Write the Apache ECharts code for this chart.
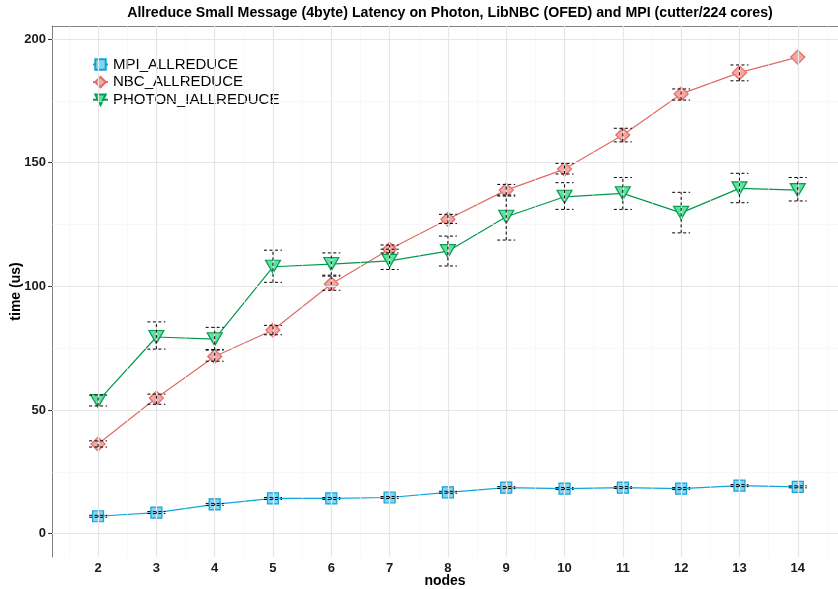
<!DOCTYPE html>
<html>
<head>
<meta charset="utf-8">
<script src="https://cdn.jsdelivr.net/npm/echarts@6/dist/echarts.min.js"></script>
<style>html,body{margin:0;padding:0;background:#fff}#c{width:838px;height:589px}</style>
</head>
<body>
<div id="c"></div>
<script>
const nodes = [2, 3, 4, 5, 6, 7, 8, 9, 10, 11, 12, 13, 14];
const mpi = [7.0, 8.5, 11.8, 14.2, 14.2, 14.6, 16.7, 18.6, 18.2, 18.6, 18.2, 19.4, 18.9];
const mpiLow = [6.6, 8.1, 11.4, 13.8, 13.8, 14.2, 16.3, 18.2, 17.8, 18.2, 17.8, 19.0, 18.5];
const mpiHigh = [7.4, 8.9, 12.2, 14.6, 14.6, 15.0, 17.1, 19.0, 18.6, 19.0, 18.6, 19.8, 19.3];
const nbc = [36.2, 54.8, 71.6, 82.3, 100.9, 115.0, 127.1, 138.9, 147.4, 161.2, 177.8, 186.4, 192.7];
const nbcLow = [35.0, 52.3, 69.7, 80.4, 98.4, 113.5, 125.4, 136.9, 145.4, 158.4, 175.3, 183.1, 192.7];
const nbcHigh = [37.5, 56.4, 74.4, 84.2, 104.1, 116.7, 129.1, 141.2, 149.7, 163.9, 179.8, 189.5, 192.7];
const photon = [53.6, 79.5, 78.6, 107.9, 109.0, 110.3, 114.2, 128.1, 136.2, 137.6, 129.7, 139.6, 138.9];
const photonLow = [51.6, 74.6, 74.2, 101.6, 104.5, 106.8, 108.2, 118.7, 131.1, 131.1, 121.6, 133.8, 134.5];
const photonHigh = [56.0, 85.6, 83.4, 114.6, 113.5, 115.0, 120.3, 136.5, 141.9, 144.0, 138.0, 145.7, 144.0];
const xTicks = [2, 3, 4, 5, 6, 7, 8, 9, 10, 11, 12, 13, 14];
const xMinor = [1.5, 2.5, 3.5, 4.5, 5.5, 6.5, 7.5, 8.5, 9.5, 10.5, 11.5, 12.5, 13.5, 14.5];
const yTicks = [0, 50, 100, 150, 200];
const yMinor = [25, 75, 125, 175];
const seriesNames = ['MPI_ALLREDUCE', 'NBC_ALLREDUCE', 'PHOTON_IALLREDUCE'];

const chart = echarts.init(document.getElementById('c'), null, {renderer: 'canvas'});

function pairs(ys) { return nodes.map((x, i) => [x, ys[i]]); }
function errData(lo, hi) { return nodes.map((x, i) => [x, lo[i], hi[i]]); }

function errRender(params, api) {
  const x = api.value(0), lo = api.value(1), hi = api.value(2);
  if (Math.abs(hi - lo) < 0.01) return null;
  const pLo = api.coord([x, lo]);
  const pHi = api.coord([x, hi]);
  const w = 9;
  const st = {stroke: '#000', lineWidth: 1, lineDash: [3, 2.5]};
  return {
    type: 'group',
    children: [
      {type: 'line', shape: {x1: pLo[0], y1: pLo[1], x2: pHi[0], y2: pHi[1]}, style: st},
      {type: 'line', shape: {x1: pLo[0] - w, y1: pLo[1], x2: pLo[0] + w, y2: pLo[1]}, style: st},
      {type: 'line', shape: {x1: pHi[0] - w, y1: pHi[1], x2: pHi[0] + w, y2: pHi[1]}, style: st}
    ]
  };
}

const gridLines = [];
xMinor.forEach(v => gridLines.push({xAxis: v, lineStyle: {color: '#f3f3f3', width: 0.6, type: 'solid'}}));
yMinor.forEach(v => gridLines.push({yAxis: v, lineStyle: {color: '#f3f3f3', width: 0.6, type: 'solid'}}));
xTicks.forEach(v => gridLines.push({xAxis: v, lineStyle: {color: '#e6e6e6', width: 1.2, type: 'solid'}}));
yTicks.forEach(v => gridLines.push({yAxis: v, lineStyle: {color: '#e6e6e6', width: 1.2, type: 'solid'}}));

const tickFont = {color: '#1a1a1a', fontWeight: 'bold', fontSize: 13, fontFamily: 'Liberation Sans, Arial, sans-serif'};

const option = {
  animation: false,
  backgroundColor: '#fff',
  grid: {left: 52, right: 0, top: 26, bottom: 32, containLabel: false, outerBoundsMode: 'none'},
  graphic: [{
    type: 'text', x: 450, y: 13,
    style: {text: 'Allreduce Small Message (4byte) Latency on Photon, LibNBC (OFED) and MPI (cutter/224 cores)',
      textAlign: 'center', textVerticalAlign: 'middle', fill: '#000',
      font: 'bold 14.2px "Liberation Sans", Arial, sans-serif'}
  }],
  legend: {
    orient: 'vertical', left: 87, top: 52, padding: 5,
    data: seriesNames,
    itemWidth: 15, itemHeight: 13, itemGap: 2.6,
    textStyle: {fontSize: 15, lineHeight: 15, color: '#000', fontFamily: 'Liberation Sans, Arial, sans-serif'}
  },
  xAxis: [{
    type: 'value', min: 1.21, max: 14.69,
    name: 'nodes', nameLocation: 'middle', nameGap: 17, nameMoveOverlap: false,
    nameTextStyle: {fontWeight: 'bold', fontSize: 14, color: '#000', fontFamily: 'Liberation Sans, Arial, sans-serif'},
    axisLine: {show: true, lineStyle: {color: '#808080', width: 1}},
    axisTick: {show: true, length: 4, lineStyle: {color: '#333'}, customValues: xTicks},
    axisLabel: {customValues: xTicks, margin: 5, ...tickFont},
    splitLine: {show: false}
  }, {
    type: 'value', min: 1.21, max: 14.69, position: 'top',
    axisLine: {show: true, lineStyle: {color: '#808080', width: 1}},
    axisTick: {show: false}, axisLabel: {show: false}, splitLine: {show: false}
  }],
  yAxis: {
    type: 'value', min: -9.47, max: 205.26,
    name: 'time (us)', nameLocation: 'middle', nameGap: 29, nameRotate: 90, nameMoveOverlap: false,
    nameTextStyle: {fontWeight: 'bold', fontSize: 14, color: '#000', fontFamily: 'Liberation Sans, Arial, sans-serif'},
    axisLine: {show: true, lineStyle: {color: '#808080', width: 1}},
    axisTick: {show: true, length: 4, lineStyle: {color: '#333'}, customValues: yTicks},
    axisLabel: {customValues: yTicks, margin: 6, ...tickFont},
    splitLine: {show: false}
  },
  series: [
    {
      type: 'line', name: '_grid', data: [], z: 0, silent: true,
      markLine: {silent: true, symbol: 'none', label: {show: false}, data: gridLines, animation: false}
    },
    {
      type: 'line', name: seriesNames[0], data: pairs(mpi), z: 3,
      symbol: 'rect', symbolSize: 11,
      lineStyle: {color: '#10a5d8', width: 1.2},
      itemStyle: {color: '#80d6f2', borderColor: '#12a0d6', borderWidth: 1.2}
    },
    {
      type: 'line', name: seriesNames[1], data: pairs(nbc), z: 3,
      symbol: 'diamond', symbolSize: 14,
      lineStyle: {color: '#e06a66', width: 1.2},
      itemStyle: {color: '#f5a7a4', borderColor: '#e06a66', borderWidth: 1.2}
    },
    {
      type: 'line', name: seriesNames[2], data: pairs(photon), z: 3,
      symbol: 'triangle', symbolRotate: 180, symbolSize: [15, 13],
      lineStyle: {color: '#00994c', width: 1.2},
      itemStyle: {color: '#5ee3a0', borderColor: '#0a9a50', borderWidth: 1.2}
    },
    {type: 'custom', name: '_errMpi', renderItem: errRender, data: errData(mpiLow, mpiHigh), z: 5, silent: true, encode: {x: 0, y: [1, 2]}},
    {type: 'custom', name: '_errNbc', renderItem: errRender, data: errData(nbcLow, nbcHigh), z: 5, silent: true, encode: {x: 0, y: [1, 2]}},
    {type: 'custom', name: '_errPhoton', renderItem: errRender, data: errData(photonLow, photonHigh), z: 5, silent: true, encode: {x: 0, y: [1, 2]}}
  ]
};
chart.setOption(option);
</script>
</body>
</html>
